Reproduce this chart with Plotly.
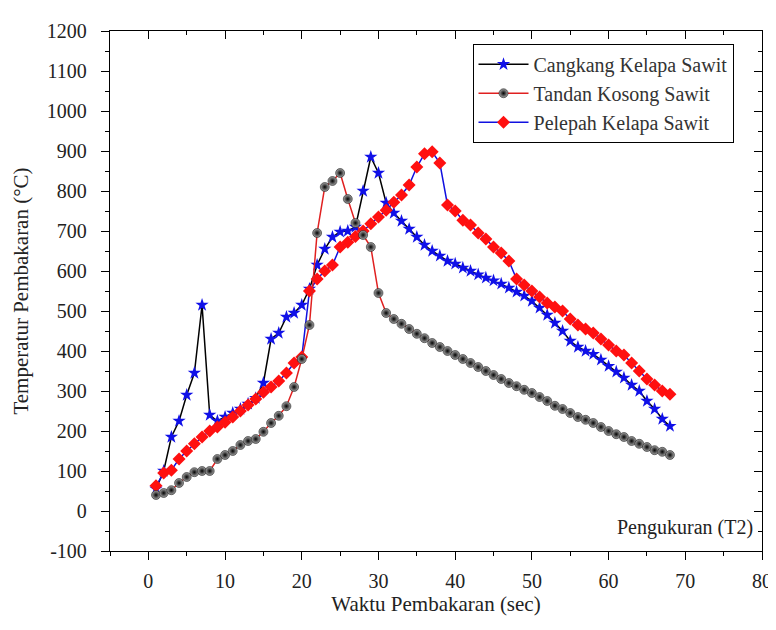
import plotly.graph_objects as go

time_s = list(range(1, 69))

cangkang = [55, 100, 185, 225, 290, 345, 515, 240, 225, 235,
            245, 255, 268, 282, 320, 430, 445, 485, 495, 515,
            555, 615, 655, 685, 698, 700, 710, 800, 885, 845,
            770, 745, 725, 705, 685, 665, 650, 638, 625, 618,
            608, 600, 591, 583, 576, 568, 558, 548, 538, 525,
            508, 490, 470, 450, 425, 410, 400, 392, 378, 362,
            348, 333, 315, 300, 275, 255, 230, 212]

tandan = [40, 45, 52, 70, 85, 97, 100, 100, 130, 140,
          150, 165, 175, 180, 198, 220, 238, 262, 310, 380,
          465, 695, 810, 825, 845, 780, 720, 690, 660, 545,
          495, 480, 468, 455, 443, 432, 420, 410, 400, 390,
          380, 370, 360, 350, 340, 330, 320, 312, 303, 295,
          285, 275, 263, 255, 245, 235, 228, 220, 210, 200,
          192, 185, 175, 168, 160, 152, 148, 140]

pelepah = [63, 95, 102, 130, 150, 168, 185, 200, 210, 222,
           235, 250, 265, 280, 297, 310, 325, 345, 370, 385,
           550, 580, 600, 615, 660, 672, 686, 700, 718, 735,
           752, 772, 790, 815, 860, 893, 898, 870, 765, 750,
           727, 715, 695, 680, 660, 645, 625, 580, 565, 550,
           535, 520, 510, 500, 480, 465, 455, 445, 430, 415,
           400, 390, 370, 350, 330, 315, 300, 292]

x_ticks = [0, 10, 20, 30, 40, 50, 60, 70, 80]
y_ticks = list(range(-100, 1201, 100))
y_ticktext = [str(v) for v in y_ticks]

XR = [-5, 80]
YR = [-100, 1200]
FONT = "Liberation Serif"

fig = go.Figure()

fig.add_trace(go.Scatter(
    x=time_s, y=cangkang, name="Cangkang Kelapa Sawit", mode="lines+markers",
    line=dict(color="black", width=1.5),
    marker=dict(symbol="star", size=10, color="#1010e8", line=dict(width=0)),
    legendrank=1))

fig.add_trace(go.Scatter(
    x=time_s, y=pelepah, name="Pelepah Kelapa Sawit", mode="lines+markers",
    line=dict(color="#1010e0", width=1.5),
    marker=dict(symbol="diamond", size=10, color="#ff1010", line=dict(width=0)),
    legendrank=3))

fig.add_trace(go.Scatter(
    x=time_s, y=tandan, name="Tandan Kosong Sawit", mode="lines+markers",
    line=dict(color="#e02020", width=1.5),
    marker=dict(symbol="circle", size=9, color="#a8a8a8",
                gradient=dict(type="radial", color="black"),
                line=dict(width=0.5, color="black")),
    legendrank=2))

# invisible trace for mirrored (top/right) axes
fig.add_trace(go.Scatter(x=[XR[0]], y=[YR[0]], xaxis="x2", yaxis="y2",
                         mode="markers", marker=dict(opacity=0),
                         showlegend=False, hoverinfo="skip"))

axis_common = dict(showgrid=False, zeroline=False, showline=True,
                   linecolor="black", linewidth=1.3, tickcolor="black",
                   tickfont=dict(family=FONT, size=20, color="#222"))

fig.update_layout(
    width=776, height=630,
    paper_bgcolor="white", plot_bgcolor="white",
    margin=dict(l=95, r=21, t=12, b=87),
    font=dict(family=FONT, color="#222"),
    xaxis=dict(range=XR, tickvals=x_ticks, ticks="outside", ticklen=8, tickwidth=1.3,
               ticklabelstandoff=4,
               minor=dict(dtick=5, tick0=0, ticks="outside", ticklen=4, tickcolor="black"),
               title=dict(text="Waktu Pembakaran (sec)", font=dict(family=FONT, size=21, color="#222"),
                          standoff=2),
               **axis_common),
    yaxis=dict(range=YR, tickvals=y_ticks, ticktext=y_ticktext, ticks="outside", ticklen=8,
               tickwidth=1.3, ticklabelstandoff=10,
               minor=dict(dtick=50, tick0=0, ticks="outside", ticklen=4, tickcolor="black"),
               title=dict(text="Temperatur Pembakaran (°C)", font=dict(family=FONT, size=21, color="#222"),
                          standoff=12),
               **axis_common),
    xaxis2=dict(range=XR, overlaying="x", side="top", tickvals=x_ticks, ticks="inside",
                ticklen=8, tickwidth=1.3, showticklabels=False,
                minor=dict(dtick=5, tick0=0, ticks="inside", ticklen=4, tickcolor="black"),
                **axis_common),
    yaxis2=dict(range=YR, overlaying="y", side="right", tickvals=y_ticks, ticks="inside",
                ticklen=8, tickwidth=1.3, showticklabels=False,
                minor=dict(dtick=50, tick0=0, ticks="inside", ticklen=4, tickcolor="black"),
                **axis_common),
    legend=dict(x=0.556, y=0.9755, xanchor="left", yanchor="top",
                bgcolor="white", bordercolor="black", borderwidth=1,
                font=dict(family=FONT, size=20, color="#333"),
                itemwidth=50, tracegroupgap=0),
    showlegend=True,
    annotations=[dict(text="Pengukuran (T2)", xref="paper", yref="paper",
                      x=0.99, y=0.045, xanchor="right", yanchor="middle",
                      showarrow=False, font=dict(family=FONT, size=20, color="#222"))],
)

fig.write_html("out.html")
